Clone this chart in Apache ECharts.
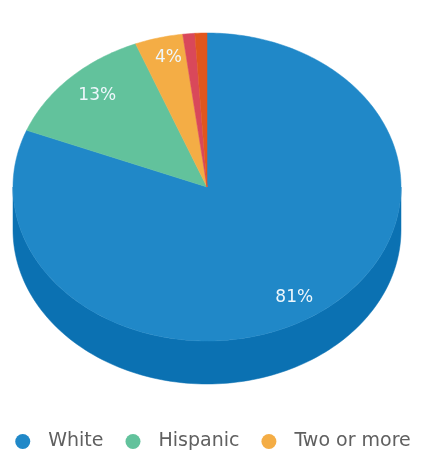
<!DOCTYPE html>
<html><head><meta charset="utf-8">
<script src="https://cdn.jsdelivr.net/npm/echarts@6/dist/echarts.min.js"></script>
<style>html,body{margin:0;padding:0;background:#fff}#c{width:426px;height:451px}</style>
</head><body><div id="c"></div>
<script>
var categories = ['White', 'Hispanic', 'Two or more', 'Black', 'Other'];
var values = [81, 13, 4, 1, 1];
var legendItems = ['White', 'Hispanic', 'Two or more'];
var topColors = ['#2088c8', '#62c29c', '#f4ad45', '#d9485a', '#e0561e'];
var sideColors = ['#0b71b2', '#47a883', '#d8922d', '#b83a48', '#c0461a'];

var total = values.reduce(function (a, b) { return a + b; }, 0);
var starts = [];
(function () { var s = 0; for (var i = 0; i < values.length; i++) { starts.push(s); s += values[i]; } })();

var CX = 207, CY = 187, RX = 194, RY = 154, DEPTH = 43;
function rim(theta, dy) {
  return [CX + RX * Math.sin(theta), CY - RY * Math.cos(theta) + (dy || 0)];
}
function makeRender(idx) {
  return function (params, api) {
    var v = api.value(0);
    var a0 = starts[idx] / total * Math.PI * 2;
    var a1 = a0 + v / total * Math.PI * 2;
    var children = [];
    var s0 = Math.max(a0, Math.PI / 2), s1 = Math.min(a1, Math.PI * 1.5);
    if (s1 > s0) {
      var pts = [], n = 120, k;
      for (k = 0; k <= n; k++) pts.push(rim(s0 + (s1 - s0) * k / n, 0));
      for (k = n; k >= 0; k--) pts.push(rim(s0 + (s1 - s0) * k / n, DEPTH));
      children.push({ type: 'polygon', z2: 1, shape: { points: pts },
        style: { fill: sideColors[idx], stroke: sideColors[idx], lineWidth: 0.5 } });
    }
    var top = [[CX, CY]];
    var m = Math.max(4, Math.round((a1 - a0) * 60));
    for (var j = 0; j <= m; j++) top.push(rim(a0 + (a1 - a0) * j / m, 0));
    children.push({ type: 'polygon', z2: 10, shape: { points: top },
      style: { fill: topColors[idx], stroke: topColors[idx], lineWidth: 0.5 } });
    if (v / total >= 0.03) {
      var mid = (a0 + a1) / 2;
      var fy = idx === 1 ? 0.84 : 0.87;
      children.push({ type: 'text', z2: 20,
        x: CX + RX * 0.8 * Math.sin(mid), y: CY - RY * fy * Math.cos(mid),
        style: { text: Math.round(v / total * 100) + '%', fill: '#eef7fc',
          font: '17px "DejaVu Sans", sans-serif', align: 'center', verticalAlign: 'middle' } });
    }
    return { type: 'group', children: children };
  };
}

var series = categories.map(function (name, i) {
  return { type: 'custom', name: name, coordinateSystem: 'none', z: (i === 0 ? 1 : 2),
    itemStyle: { color: topColors[i] }, data: [[values[i]]], renderItem: makeRender(i), silent: true };
});

var chart = echarts.init(document.getElementById('c'), null, { renderer: 'canvas' });
chart.setOption({
  animation: false,
  backgroundColor: '#ffffff',
  legend: {
    data: legendItems, top: 427, left: 'center', icon: 'circle',
    itemWidth: 15, itemHeight: 15, itemGap: 22,
    textStyle: { color: '#606060', fontSize: 19, fontFamily: 'DejaVu Sans', padding: [0, 0, 0, 13] }
  },
  series: series
});
</script></body></html>
